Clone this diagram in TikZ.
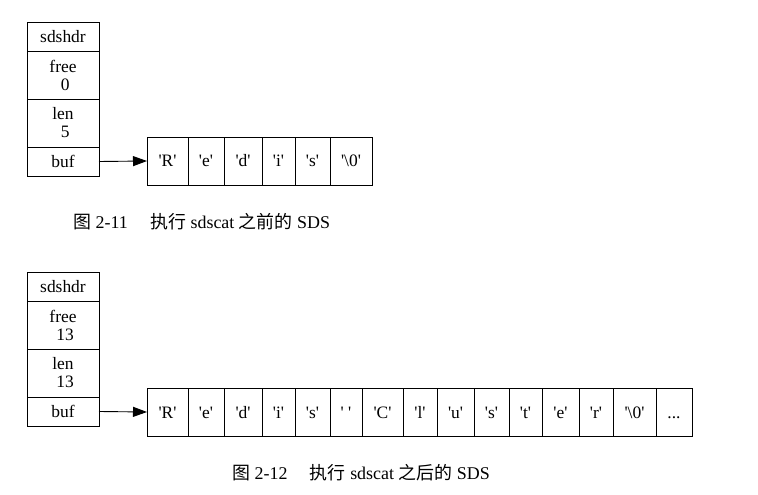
\documentclass[tikz,border=0pt]{standalone}
\usepackage{fontspec}
\setmainfont{Liberation Serif}
\newfontfamily\cjk{Noto Sans CJK SC}
\usetikzlibrary{arrows.meta}
\newcommand\qq{\textquotesingle}
\begin{document}
\begin{tikzpicture}[x=1bp,y=-1bp,
  font=\fontsize{17.5}{18}\selectfont,
  fld/.style={draw, line width=0.9bp, anchor=north west, minimum width=72bp, inner sep=0pt, outer sep=0pt, align=center},
  cell/.style={draw, line width=0.9bp, anchor=north west, minimum height=48bp, inner sep=0pt, outer sep=0pt, text height=12bp, text depth=0bp},
  ptr/.style={line width=0.9bp, -{Triangle[length=14bp,width=10bp]}},
  captxt/.style={anchor=west, inner sep=0pt, font=\fontsize{18}{18}\selectfont}]
\useasboundingbox (0,0) rectangle (758,495);
% ---- figure 2-11 ----
\node[fld, minimum height=29bp] (ha) at (27,22) {sdshdr};
\node[fld, minimum height=48bp] (fa) at (27,51) {free\\~0};
\node[fld, minimum height=48bp] (la) at (27,99) {len\\~5};
\node[fld, minimum height=29bp] (ba) at (27,147) {buf};
\node[cell, minimum width=41bp] (a1) at (147,137) {\qq R\qq};
\node[cell, minimum width=36bp] (a2) at (188,137) {\qq e\qq};
\node[cell, minimum width=38bp] (a3) at (224,137) {\qq d\qq};
\node[cell, minimum width=33bp] (a4) at (262,137) {\qq i\qq};
\node[cell, minimum width=35bp] (a5) at (295,137) {\qq s\qq};
\node[cell, minimum width=42bp] (a6) at (330,137) {\qq\textbackslash 0\qq};
\draw[ptr] (ba.east) -- (a1.west);
\node[captxt] (c1) at (73,222) {{\cjk 图} 2-11\quad\ {\cjk 执行} sdscat {\cjk 之前的} SDS};
% ---- figure 2-12 ----
\node[fld, minimum height=29bp] (hb) at (27,272) {sdshdr};
\node[fld, minimum height=48bp] (fb) at (27,301) {free\\~13};
\node[fld, minimum height=48bp] (lb) at (27,349) {len\\~13};
\node[fld, minimum height=29bp] (bb) at (27,397) {buf};
\node[cell, minimum width=41bp] (b1) at (147,388) {\qq R\qq};
\node[cell, minimum width=36bp] (b2) at (188,388) {\qq e\qq};
\node[cell, minimum width=38bp] (b3) at (224,388) {\qq d\qq};
\node[cell, minimum width=33bp] (b4) at (262,388) {\qq i\qq};
\node[cell, minimum width=35bp] (b5) at (295,388) {\qq s\qq};
\node[cell, minimum width=32bp] (b6) at (330,388) {\qq\ \qq};
\node[cell, minimum width=41bp] (b7) at (362,388) {\qq C\qq};
\node[cell, minimum width=34bp] (b8) at (403,388) {\qq l\qq};
\node[cell, minimum width=37bp] (b9) at (437,388) {\qq u\qq};
\node[cell, minimum width=35bp] (b10) at (474,388) {\qq s\qq};
\node[cell, minimum width=33bp] (b11) at (509,388) {\qq t\qq};
\node[cell, minimum width=37bp] (b12) at (542,388) {\qq e\qq};
\node[cell, minimum width=34bp] (b13) at (579,388) {\qq r\qq};
\node[cell, minimum width=43bp] (b14) at (613,388) {\qq\textbackslash 0\qq};
\node[cell, minimum width=36bp] (b15) at (656,388) {{.}{.}{.}};
\draw[ptr] (bb.east) -- (b1.west);
\node[captxt] (c2) at (232,473) {{\cjk 图} 2-12\quad\ {\cjk 执行} sdscat {\cjk 之后的} SDS};
\end{tikzpicture}
\end{document}
